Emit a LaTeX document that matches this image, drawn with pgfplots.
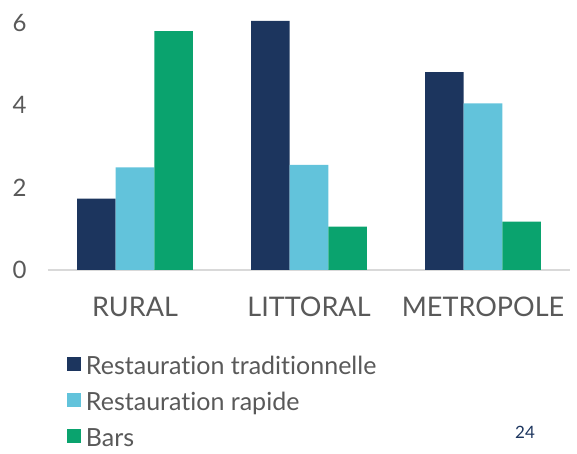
\documentclass[border=0pt]{standalone}
\usepackage{pgfplots}
\pgfplotsset{compat=1.18}
\usepackage{fontspec}
\setmainfont{Lato}[Ligatures={NoCommon}]
\definecolor{navy}{HTML}{1C355E}
\definecolor{lblue}{HTML}{62C3DB}
\definecolor{grn}{HTML}{0AA36E}
\definecolor{txt}{HTML}{595959}
\definecolor{base}{HTML}{D9D9D9}
\begin{document}
\begin{tikzpicture}
\path[use as bounding box] (-48pt,-184pt) rectangle (529pt,270pt);
\begin{axis}[
  scale only axis, width=522pt, height=255.75pt,
  xmin=-0.5, xmax=2.5, ymin=0, ymax=6.2,
  ybar=0pt, bar width=38.6pt,
  axis y line=none, axis x line*=bottom,
  axis line style={base, line width=1.2pt, -},
  xtick={0,1,2}, xticklabels={RURAL,LITTORAL,METROPOLE},
  xtick style={draw=none},
  x tick label style={font=\fontsize{27}{30}\selectfont, text=txt, yshift=-19pt},
  clip=false,
  legend style={at={(0.036,-0.328)}, anchor=north west, draw=none, fill=none,
    font=\fontsize{25}{28}\selectfont, text=txt, row sep=13pt, column sep=4pt,
    nodes={text height=19pt, text depth=2pt, inner sep=1pt},
    cells={anchor=west}, inner sep=0pt},
  legend image code/.code={\fill[#1] (0pt,-5pt) rectangle (14pt,9pt);},
]
\addplot[fill=navy, draw=none] coordinates {(0,1.73) (1,6.04) (2,4.80)};
\addplot[fill=lblue, draw=none] coordinates {(0,2.49) (1,2.55) (2,4.04)};
\addplot[fill=grn, draw=none] coordinates {(0,5.79) (1,1.05) (2,1.17)};
\legend{Restauration traditionnelle, Restauration rapide, Bars}
\foreach \v in {0,2,4,6} {
  \edef\tmp{\noexpand\node[anchor=east, font=\noexpand\fontsize{24}{28}\noexpand\selectfont, text=txt] at (axis cs:-0.5,\v) [xshift=-18pt] {\v};}
  \tmp
}
\end{axis}
\node[text=navy, font=\fontsize{17}{20}\selectfont] at (477pt,-162pt) {24};
\end{tikzpicture}
\end{document}
